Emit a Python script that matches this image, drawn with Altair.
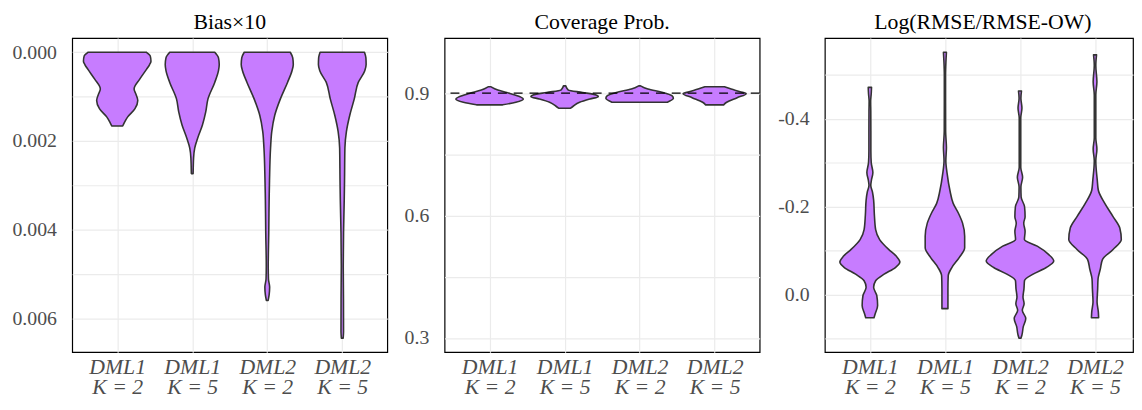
import json
import altair as alt
import pandas as pd

# ---------------- data ----------------
LINE1 = ["DML1", "DML1", "DML2", "DML2"]
LINE2 = ["K = 2", "K = 5", "K = 2", "K = 5"]
TITLES = ["Bias\u00d710", "Coverage Prob.", "Log(RMSE/RMSE-OW)"]

# Violin outlines: value along the y axis, half-width in category units
# Panel 1: Bias x 10
BIAS_Y = [
    [0, 0.000082, 0.000200, 0.000282, 0.000386, 0.000607, 0.000829, 0.000946,
     0.001086, 0.001272, 0.001456, 0.001567, 0.001662],
    [0, 0.000126, 0.000275, 0.000415, 0.000680, 0.001051, 0.001345, 0.001640,
     0.001937, 0.002159, 0.002380, 0.002735],
    [0, 0.000126, 0.000275, 0.000415, 0.000680, 0.001051, 0.001419, 0.001788,
     0.002159, 0.002897, 0.003340, 0.004072, 0.004819, 0.005113, 0.005291,
     0.005468, 0.005594],
    [0, 0.000126, 0.000275, 0.000415, 0.000680, 0.001051, 0.001419, 0.001788,
     0.002159, 0.002897, 0.003340, 0.004072, 0.004819, 0.005557, 0.006295,
     0.006444],
]
BIAS_W = [
    [0.39, 0.44, 0.45, 0.43, 0.39, 0.30, 0.225, 0.25, 0.274, 0.237, 0.14, 0.10, 0.073],
    [0.30, 0.35, 0.36, 0.35, 0.30, 0.21, 0.18, 0.136, 0.072, 0.033, 0.018, 0.012],
    [0.307, 0.34, 0.347, 0.33, 0.27, 0.175, 0.10, 0.06, 0.044, 0.03, 0.025, 0.02,
     0.013, 0.016, 0.032, 0.025, 0.012],
    [0.296, 0.315, 0.318, 0.30, 0.213, 0.16, 0.10, 0.055, 0.035, 0.03, 0.026, 0.017,
     0.013, 0.016, 0.017, 0.012],
]

# Panel 2: Coverage probability
COV_Y = [
    [0.8713, 0.8776, 0.8858, 0.8913, 0.8993, 0.9075, 0.9155],
    [0.8631, 0.8672, 0.8776, 0.8858, 0.8913, 0.8954, 0.9017, 0.9075, 0.9120, 0.9178],
    [0.8776, 0.8872, 0.8937, 0.9017, 0.9099, 0.9178],
    [0.8713, 0.8776, 0.8889, 0.8986, 0.9034, 0.9099, 0.9155],
]
COV_W = [
    [0.175, 0.35, 0.45, 0.405, 0.27, 0.11, 0.02],
    [0.08, 0.11, 0.20, 0.34, 0.45, 0.42, 0.24, 0.05, 0.03, 0.015],
    [0.37, 0.45, 0.43, 0.31, 0.11, 0.012],
    [0.12, 0.16, 0.30, 0.42, 0.34, 0.22, 0.13],
]
COV_TARGET = [0.9]

# Panel 3: Log(RMSE / RMSE-OW)
RMSE_Y = [
    [-0.4709, -0.4567, -0.4388, -0.4164, -0.3715, -0.3267, -0.2998, -0.2774,
     -0.2595, -0.2482, -0.2325, -0.2146, -0.1809, -0.1473, -0.1249, -0.1025,
     -0.0874, -0.0740, -0.0614, -0.0464, -0.0314, -0.0166, 0.0022, 0.0247,
     0.0433, 0.0529],
    [-0.5509, -0.5285, -0.4987, -0.4388, -0.3715, -0.3341, -0.3043, -0.2744,
     -0.2370, -0.2072, -0.1848, -0.1623, -0.1323, -0.1063, -0.0839, -0.0614,
     -0.0426, -0.0128, 0.0321],
    [-0.4628, -0.4462, -0.4238, -0.4013, -0.3491, -0.2892, -0.2668, -0.2444,
     -0.2220, -0.1996, -0.1771, -0.1623, -0.1435, -0.1249, -0.1099, -0.0913,
     -0.0762, -0.0614, -0.0464, -0.0314, -0.0128, 0.0058, 0.0209, 0.0359,
     0.0545, 0.0731, 0.0919, 0.0993],
    [-0.5448, -0.5211, -0.4836, -0.4538, -0.3565, -0.3305, -0.3043, -0.2595,
     -0.2370, -0.2072, -0.1771, -0.1511, -0.1249, -0.1025, -0.0800, -0.0576,
     -0.0352, -0.0128, 0.0170, 0.0395, 0.0529],
]
RMSE_W = [
    [0.022, 0.018, 0.010, 0.012, 0.013, 0.013, 0.018, 0.040, 0.020, 0.012, 0.035,
     0.050, 0.060, 0.077, 0.13, 0.25, 0.35, 0.40, 0.34, 0.19, 0.077, 0.05, 0.092,
     0.103, 0.072, 0.055],
    [0.02, 0.013, 0.008, 0.008, 0.009, 0.02, 0.012, 0.03, 0.066, 0.11, 0.18, 0.235,
     0.263, 0.263, 0.19, 0.092, 0.044, 0.04, 0.04],
    [0.02, 0.012, 0.026, 0.01, 0.01, 0.01, 0.035, 0.012, 0.015, 0.061, 0.068, 0.05,
     0.068, 0.059, 0.23, 0.38, 0.45, 0.35, 0.175, 0.06, 0.053, 0.04, 0.055, 0.031,
     0.077, 0.044, 0.026, 0.012],
    [0.02, 0.01, 0.025, 0.01, 0.01, 0.025, 0.01, 0.03, 0.044, 0.13, 0.24, 0.33,
     0.35, 0.24, 0.10, 0.07, 0.04, 0.035, 0.027, 0.044, 0.048],
]

# ---------------- styling ----------------
FONT = "Liberation Serif"
FILL = "#C77CFF"
EDGE = "#333333"
GRID = "#EBEBEB"
LABC = "#4D4D4D"
H = 318

XLABEL = "[" + json.dumps(LINE1) + "[datum.value], " + json.dumps(LINE2) + "[datum.value]]"


def frame(ys_list, ws_list):
    rows = []
    for i, (ys, ws) in enumerate(zip(ys_list, ws_list)):
        for y, w in zip(ys, ws):
            rows.append({"cat": i, "y": y, "lo": i - w, "hi": i + w})
    return pd.DataFrame(rows)


def panel(df, title, ydomain, yreverse, yvalues, ylabel_expr, lpad, width,
          xmax=3.6, tdx=0, extra=None):
    xscale = alt.Scale(domain=[-0.6, xmax], nice=False, zero=False)
    xaxis = alt.Axis(values=[0, 1, 2, 3], labelExpr=XLABEL, title=None, grid=True,
                     gridColor=GRID, gridWidth=1.2, ticks=False, tickSize=0, domain=False,
                     labelFont=FONT, labelFontSize=22, labelFontStyle="italic",
                     labelColor=LABC, labelPadding=5, labelLineHeight=20,
                     labelAngle=0)
    yscale = alt.Scale(domain=ydomain, reverse=yreverse, nice=False, zero=False)
    yaxis = alt.Axis(values=yvalues, labelExpr=ylabel_expr, title=None, grid=True,
                     gridColor=GRID, gridWidth=1.2, ticks=False, tickSize=0, domain=False,
                     labelFont=FONT, labelFontSize=20, labelColor=LABC,
                     labelPadding=lpad)
    area = alt.Chart(df).mark_area(
        orient="horizontal", interpolate="monotone", fill=FILL, fillOpacity=1,
        stroke=EDGE, strokeWidth=1.6, strokeJoin="round"
    ).encode(
        y=alt.Y("y:Q", scale=yscale, axis=yaxis),
        x=alt.X("lo:Q", scale=xscale, axis=xaxis),
        x2="hi:Q",
        detail="cat:N",
    )
    layers = [area]
    if extra is not None:
        layers.append(extra)
    return alt.layer(*layers).properties(
        width=width, height=H,
        title=alt.TitleParams(title, font=FONT, fontSize=22, fontWeight="normal",
                              color="black", anchor="middle", offset=4, dx=tdx),
    )


p1 = panel(frame(BIAS_Y, BIAS_W), TITLES[0], [-0.00032, 0.00676], True,
           [0, 0.001, 0.002, 0.003, 0.004, 0.005, 0.006],
           "round(datum.value*1000) % 2 == 0 ? format(datum.value, '.3f') : ''",
           16, 319)

rule = alt.Chart(pd.DataFrame({"ref": COV_TARGET})).mark_rule(
    color="black", strokeDash=[9, 7], strokeWidth=1.3
).encode(y="ref:Q")

p2 = panel(frame(COV_Y, COV_W), TITLES[1], [0.265, 1.035], False,
           [0.3, 0.45, 0.6, 0.75, 0.9],
           "round(datum.value*100) % 30 == 0 ? format(datum.value, '.1f') : ''",
           16, 319, extra=rule)

p3 = panel(frame(RMSE_Y, RMSE_W), TITLES[2], [-0.583, 0.131], True,
           [-0.5, -0.4, -0.3, -0.2, -0.1, 0.0, 0.1],
           "round(datum.value*10) % 2 == 0 ? replace(format(datum.value, '.1f'), '\u2212', '-') : ''",
           16, 312, xmax=3.506, tdx=4)

chart = alt.hconcat(p1, p2, p3, spacing=15).properties(
    padding={"left": 3, "top": 0, "right": 0, "bottom": 0}
).configure_view(
    stroke="black", strokeWidth=1.2
).configure_title(
    font=FONT, fontSize=22, fontWeight="normal", color="black"
)

chart.save("out.html", embed_options={"renderer": "svg", "actions": False})
